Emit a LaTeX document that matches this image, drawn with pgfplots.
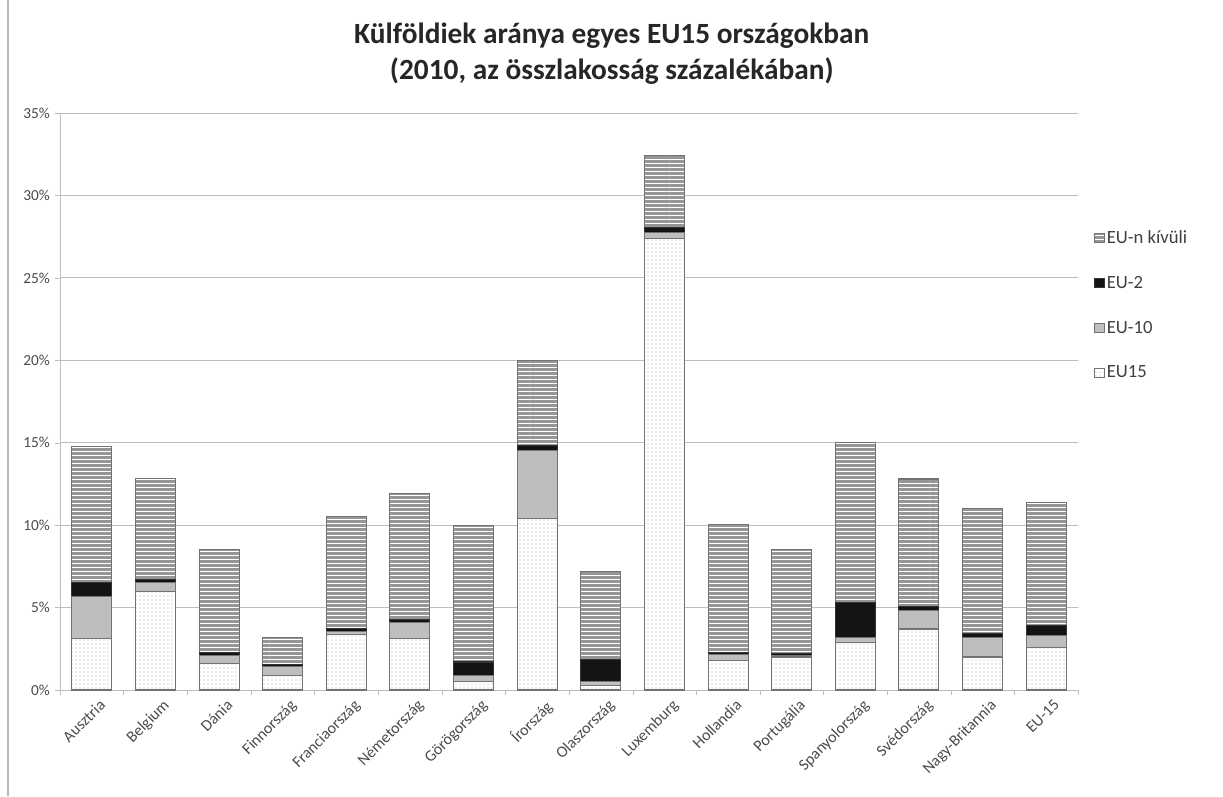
\documentclass[border=0pt]{standalone}
\usepackage{pgfplots}
\pgfplotsset{compat=1.18}
\usepackage{pgfplotstable}
\usepackage{fontspec}
\setmainfont{Carlito}
\usetikzlibrary{patterns}

\definecolor{edge}{RGB}{115,115,115}
\definecolor{nonEUfill}{RGB}{150,150,150}
\definecolor{eutenfill}{RGB}{190,190,190}
\definecolor{ticktext}{RGB}{75,75,75}
\definecolor{gridc}{RGB}{190,190,190}

\pgfplotstableread{
x  eufifteen euten eutwo nonEU
0  3.15  2.55  0.80  8.25
1  6.00  0.50  0.20  6.15
2  1.60  0.50  0.20  6.25
3  0.90  0.50  0.15  1.65
4  3.35  0.20  0.20  6.75
5  3.10  1.00  0.20  7.60
6  0.50  0.40  0.80  8.30
7  10.40 4.10  0.35  5.15
8  0.25  0.25  1.35  5.35
9  27.40 0.35  0.30  4.35
10 1.80  0.35  0.15  7.75
11 2.00  0.10  0.10  6.30
12 2.90  0.30  2.10  9.70
13 3.70  1.15  0.20  7.75
14 2.00  1.20  0.20  7.60
15 2.60  0.70  0.60  7.45
}\data

\begin{document}
\begin{tikzpicture}
\path[use as bounding box] (-45pt,-79.5pt) rectangle (872.25pt,517.5pt);
\draw[gray!55, line width=0.8pt] (-39pt,-79.5pt) -- (-39pt,517.5pt);
\begin{axis}[
  at={(0,0)}, anchor=south west,
  scale only axis, width=763.5pt, height=432.75pt,
  ybar stacked, bar width=30pt,
  xmin=-0.5, xmax=15.5, ymin=0, ymax=35,
  ytick={0,5,...,35},
  yticklabel={\pgfmathprintnumber{\tick}\%},
  /pgf/number format/assume math mode=true,
  xtick=data,
  xticklabels={Ausztria,Belgium,Dánia,Finnország,Franciaország,Németország,Görögország,Írország,Olaszország,Luxemburg,Hollandia,Portugália,Spanyolország,Svédország,Nagy-Britannia,EU-15},
  xticklabel style={rotate=45, anchor=north east, font=\fontsize{12}{14}\selectfont, color=ticktext, inner sep=1pt, xshift=3pt, yshift=-4pt},
  yticklabel style={font=\fontsize{11.5}{14}\selectfont, color=ticktext},
  x tick style={draw=none},
  minor xtick={-0.5,0.5,...,15.5},
  minor x tick style={draw=gridc},
  minor tick length=4pt,
  y tick style={draw=gridc},
  major tick length=4pt,
  tick align=outside,
  ymajorgrids, grid style={gridc, line width=0.6pt},
  axis x line*=bottom, axis y line*=left,
  axis line style={gridc, line width=0.6pt},
  title={Külföldiek aránya egyes EU15 országokban\\(2010, az összlakosság százalékában)},
  title style={at={(0.542,1)}, anchor=south, yshift=12pt, align=center, font=\bfseries\fontsize{22}{26.5}\selectfont, color=black!85},
  legend style={at={(1.012,0.806)}, anchor=north west, draw=none, fill=none,
    font=\fontsize{14}{16}\selectfont, row sep=19pt, text=black!75,
    /tikz/every even column/.append style={column sep=2pt}},
  legend cell align=left,
  reverse legend,
  legend image code/.code={\draw[#1, line width=0.4pt] (0pt,-3.4pt) rectangle (6.8pt,3.4pt);},
]
\addplot[draw=edge, line width=0.8pt, fill=white, postaction={pattern=dots, pattern color=black!30}] table[x=x, y=eufifteen]{\data};
\addplot[draw=edge, line width=0.8pt, fill=eutenfill] table[x=x, y=euten]{\data};
\addplot[draw=black!80, line width=0.8pt, fill=black!92] table[x=x, y=eutwo]{\data};
\addplot[draw=edge, line width=0.8pt, fill=nonEUfill, postaction={pattern=horizontal lines, pattern color=white}] table[x=x, y=nonEU]{\data};
\legend{EU15,EU-10,EU-2,EU-n kívüli}
\end{axis}
\end{tikzpicture}
\end{document}
